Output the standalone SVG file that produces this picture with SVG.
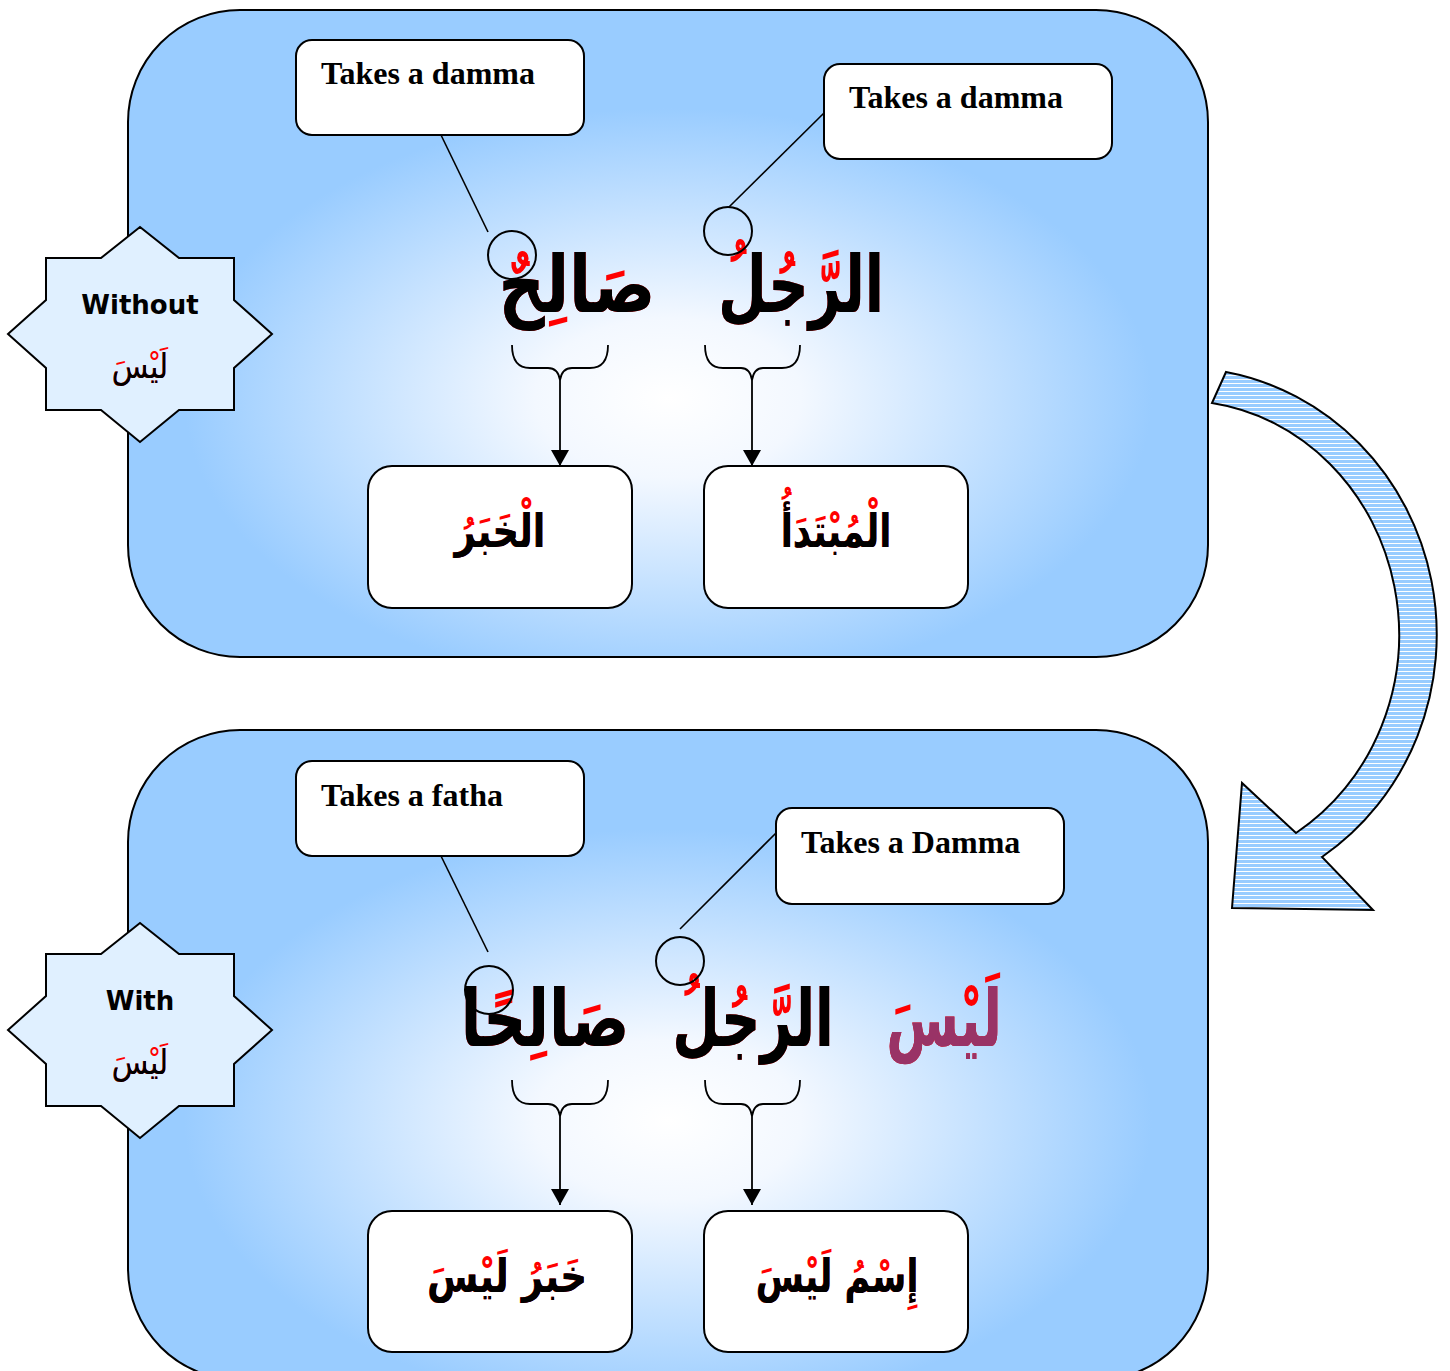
<svg xmlns="http://www.w3.org/2000/svg" width="1450" height="1371" viewBox="0 0 1450 1371">
<defs>
<radialGradient id="pg" cx="0.5" cy="0.6" r="0.56">
<stop offset="0" stop-color="#FFFFFF"/>
<stop offset="0.22" stop-color="#F3F8FF"/>
<stop offset="0.8" stop-color="#99CCFF"/>
<stop offset="1" stop-color="#99CCFF"/>
</radialGradient>
<pattern id="stripes" width="8" height="4" patternUnits="userSpaceOnUse">
<rect width="8" height="4" fill="#99CCFF"/>
<rect y="3" width="8" height="1" fill="#FFFFFF"/>
</pattern>
<marker id="ah" viewBox="0 0 16 18" refX="16" refY="9" markerWidth="16" markerHeight="18" markerUnits="userSpaceOnUse" orient="auto">
<path d="M0,0 L16,9 L0,18 Z" fill="#000"/>
</marker>
<path id="star" d="M0,-107 L39,-76 L94,-76 L94,-34 L132,0 L94,34 L94,76 L39,76 L0,108 L-39,76 L-94,76 L-94,34 L-132,0 L-94,-34 L-94,-76 L-39,-76 Z"/>
</defs>
<style>
.panel{fill:url(#pg);stroke:#000;stroke-width:2}
.box{fill:#fff;stroke:#000;stroke-width:2}
.callout{font-family:'Liberation Serif',serif;font-weight:bold;font-size:32px;fill:#000}
.star{fill:#E0F0FF;stroke:#000;stroke-width:2}
.starlbl{font-family:'DejaVu Sans',sans-serif;font-weight:bold;font-size:26px;text-anchor:middle;fill:#000}
.ar{font-family:'DejaVu Sans',sans-serif;font-weight:bold;text-anchor:middle}
.red{fill:#FF0000}
.blk{fill:#000}
.pur{fill:#993366}
.big{font-size:74px}
.mid{font-size:46px}
.sm{font-size:34px;font-weight:normal}
.ring{fill:none;stroke:#000;stroke-width:2}
.ln{fill:none;stroke:#000;stroke-width:1.6}
.br{fill:none;stroke:#000;stroke-width:1.8}
</style>

<g id="panel-top"><rect class="panel" x="128" y="10" width="1080" height="647" rx="112"/></g>
<g id="panel-bottom"><rect class="panel" x="128" y="730" width="1080" height="650" rx="112"/></g>

<g id="curved-arrow">
<path d="M1226,372 A257,267 0 0 1 1322,857 L1373,910 L1232,908 L1242,783 L1296,833 A219,234 0 0 0 1212,403 Z" fill="url(#stripes)" stroke="#000" stroke-width="2"/>
</g>

<g id="star-without">
<use href="#star" class="star" x="140" y="334"/>
<text class="starlbl" x="140" y="314">Without</text>
<g transform="translate(140,378) scale(0.88,1)">
<text class="ar sm red" x="0" y="0">لَيْسَ</text>
<text class="ar sm blk" x="0" y="0">ليس</text>
</g>
</g>
<g id="star-with">
<use href="#star" class="star" x="140" y="1030"/>
<text class="starlbl" x="140" y="1010">With</text>
<g transform="translate(140,1074) scale(0.88,1)">
<text class="ar sm red" x="0" y="0">لَيْسَ</text>
<text class="ar sm blk" x="0" y="0">ليس</text>
</g>
</g>

<g id="connectors">
<line class="ln" x1="441" y1="135" x2="488" y2="232"/>
<line class="ln" x1="824" y1="113" x2="729" y2="207"/>
<line class="ln" x1="441" y1="856" x2="488" y2="952"/>
<line class="ln" x1="776" y1="833" x2="680" y2="929"/>
<path class="br" d="M512,345 Q512,368 530,368 L548,368 Q558,368 560,380 Q562,368 572,368 L590,368 Q608,368 608,345"/>
<path class="br" d="M705,345 Q705,368 723,368 L741,368 Q750,368 752,380 Q754,368 763,368 L782,368 Q800,368 800,345"/>
<path class="br" d="M512,1080 Q512,1104 530,1104 L548,1104 Q558,1104 560,1116 Q562,1104 572,1104 L590,1104 Q608,1104 608,1080"/>
<path class="br" d="M705,1080 Q705,1104 723,1104 L741,1104 Q750,1104 752,1116 Q754,1104 763,1104 L782,1104 Q800,1104 800,1080"/>
<line class="br" x1="560" y1="380" x2="560" y2="466" marker-end="url(#ah)"/>
<line class="br" x1="752" y1="380" x2="752" y2="466" marker-end="url(#ah)"/>
<line class="br" x1="560" y1="1116" x2="560" y2="1205" marker-end="url(#ah)"/>
<line class="br" x1="752" y1="1116" x2="752" y2="1205" marker-end="url(#ah)"/>
</g>

<g id="callout-top-left"><rect class="box" x="296" y="40" width="288" height="95" rx="16"/><text class="callout" x="321" y="84">Takes a damma</text></g>
<g id="callout-top-right"><rect class="box" x="824" y="64" width="288" height="95" rx="16"/><text class="callout" x="849" y="108">Takes a damma</text></g>
<g id="callout-bottom-left"><rect class="box" x="296" y="761" width="288" height="95" rx="16"/><text class="callout" x="321" y="806">Takes a fatha</text></g>
<g id="callout-bottom-right"><rect class="box" x="776" y="808" width="288" height="96" rx="16"/><text class="callout" x="801" y="853">Takes a Damma</text></g>

<g id="word-salih-top">
<g transform="translate(577,312) scale(0.87,1.06)">
<text class="ar big red" x="0" y="0">صَالِحٌ</text>
<text class="ar big blk" x="0" y="0">صالح</text>
</g>
<circle class="ring" cx="512" cy="255" r="24"/>
</g>
<g id="word-rajul-top">
<g transform="translate(801,312) scale(0.76,1.06)">
<text class="ar big red" x="0" y="0">الرَّجُلُ</text>
<text class="ar big blk" x="0" y="0">الرجل</text>
</g>
<circle class="ring" cx="728" cy="231" r="24"/>
</g>

<g id="box-khabar"><rect class="box" x="368" y="466" width="264" height="142" rx="24"/>
<g transform="translate(500,547) scale(0.8,1)">
<text class="ar mid red" x="0" y="0">الْخَبَرُ</text><text class="ar mid blk" x="0" y="0">الخبر</text>
</g></g>
<g id="box-mubtada"><rect class="box" x="704" y="466" width="264" height="142" rx="24"/>
<g transform="translate(836,547) scale(0.77,1)">
<text class="ar mid red" x="0" y="0">الْمُبْتَدَأُ</text><text class="ar mid blk" x="0" y="0">المبتدأ</text>
</g></g>

<g id="word-salihan-bottom">
<g transform="translate(545,1046) scale(0.81,1.06)">
<text class="ar big red" x="0" y="0">صَالِحًا</text>
<text class="ar big blk" x="0" y="0">صالحا</text>
</g>
<circle class="ring" cx="489" cy="990" r="24"/>
</g>
<g id="word-rajul-bottom">
<g transform="translate(753,1046) scale(0.74,1.06)">
<text class="ar big red" x="0" y="0">الرَّجُلُ</text>
<text class="ar big blk" x="0" y="0">الرجل</text>
</g>
<circle class="ring" cx="680" cy="961" r="24"/>
</g>
<g id="word-laysa">
<g transform="translate(944,1046) scale(0.71,1.06)">
<text class="ar big red" x="0" y="0">لَيْسَ</text>
<text class="ar big pur" x="0" y="0">ليس</text>
</g>
</g>

<g id="box-khabar-laysa"><rect class="box" x="368" y="1211" width="264" height="141" rx="24"/>
<g transform="translate(507,1292) scale(0.81,1)">
<text class="ar mid red" x="0" y="0">خَبَرُ لَيْسَ</text><text class="ar mid blk" x="0" y="0">خبر ليس</text>
</g></g>
<g id="box-ism-laysa"><rect class="box" x="704" y="1211" width="264" height="141" rx="24"/>
<g transform="translate(837,1292) scale(0.76,1)">
<text class="ar mid red" x="0" y="0">إِسْمُ لَيْسَ</text><text class="ar mid blk" x="0" y="0">إسم ليس</text>
</g></g>
</svg>
